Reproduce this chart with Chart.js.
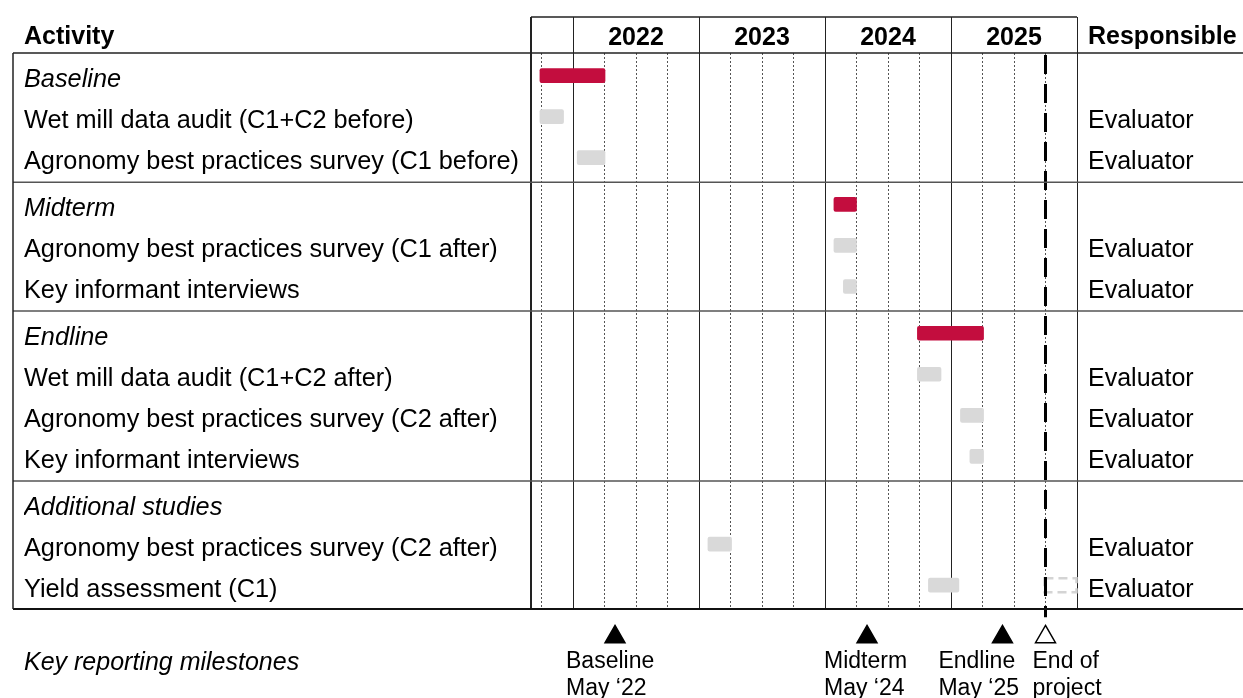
<!DOCTYPE html>
<html>
<head>
<meta charset="utf-8">
<script src="https://cdn.jsdelivr.net/npm/chart.js@4"></script>
<style>
  html, body { margin: 0; padding: 0; background: #fff; }
  #wrap { width: 1243px; height: 698px; }
</style>
</head>
<body>
<div id="wrap"><canvas id="plan" width="1243" height="698"></canvas></div>
<script>
// time is counted in months from 1 Jan 2022 (so -4 = Sep 2021, 48 = end of 2025)
const ACTIVITIES = [
  'Baseline',
  'Wet mill data audit (C1+C2 before)',
  'Agronomy best practices survey (C1 before)',
  'Midterm',
  'Agronomy best practices survey (C1 after)',
  'Key informant interviews',
  'Endline',
  'Wet mill data audit (C1+C2 after)',
  'Agronomy best practices survey (C2 after)',
  'Key informant interviews',
  'Additional studies',
  'Agronomy best practices survey (C2 after)',
  'Yield assessment (C1)'
];
const ROW_GROUP = [0, 0, 0, 1, 1, 1, 2, 2, 2, 2, 3, 3, 3];
const IS_PHASE = [true, false, false, true, false, false, true, false, false, false, true, false, false];
const BAR_START = [-3.15, -3.15, 0.4, 24.85, 24.85, 25.75, 32.8, 32.8, 36.9, 37.8, null, 12.85, 33.85];
const BAR_END = [3.05, -0.9, 3.05, 27.0, 27.0, 27.0, 39.1, 35.05, 39.1, 39.1, null, 15.1, 36.75];
const RESPONSIBLE = ['', 'Evaluator', 'Evaluator', '', 'Evaluator', 'Evaluator', '',
  'Evaluator', 'Evaluator', 'Evaluator', '', 'Evaluator', 'Evaluator'];
// planned but not yet scheduled (dashed outline)
const PLANNED_START = [null, null, null, null, null, null, null, null, null, null, null, null, 44.9];
const PLANNED_END = [null, null, null, null, null, null, null, null, null, null, null, null, 47.95];

const YEAR_BOUNDS = [-4, 0, 12, 24, 36, 48];
const YEAR_LABELS = ['', '2022', '2023', '2024', '2025', ''];
const QUARTER_TICKS = [-3, 3, 6, 9, 15, 18, 21, 27, 30, 33, 39, 42, 45];

const MILESTONE_MONTH = [4, 28, 40.9, 45];
const MILESTONE_TEXT = [['Baseline', 'May \u201822'], ['Midterm', 'May \u201824'], ['Endline', 'May \u201825'], ['End of', 'project']];
const MILESTONE_DONE = [true, true, true, false];
const END_OF_PROJECT = 45;

const FONT = "'Liberation Sans', Arial, sans-serif";
const RED = '#c30d3e';
const GREY = '#d9d9d9';
const GROUP_GAP = 0.14;      // extra space between groups, in rows
const Y_MIN = -0.55, Y_MAX = 13.0;
const MILESTONE_ROW = 13.68;
const LABEL_NUDGE = [-49, -43, -64, -13];

Chart.defaults.font.family = FONT;
Chart.defaults.color = '#000';

function rowPos(i) {
  return i + ROW_GROUP[i] * GROUP_GAP;
}

function barData(phase) {
  const out = [];
  ACTIVITIES.forEach((a, i) => {
    if (IS_PHASE[i] === phase && BAR_START[i] !== null) {
      out.push({ x: [BAR_START[i], BAR_END[i]], y: rowPos(i) });
    }
  });
  return out;
}

const rowTicks = scale => { scale.ticks = ACTIVITIES.map((a, i) => ({ value: rowPos(i) })); };

const frame = {
  id: 'frame',
  beforeDatasetsDraw(chart) {
    const { ctx, scales: { x, y } } = chart;
    ctx.save();
    ctx.strokeStyle = '#d4d4d4';
    ctx.lineWidth = 2.5;
    ctx.setLineDash([9, 5]);
    PLANNED_START.forEach((s, i) => {
      if (s === null) return;
      const x0 = x.getPixelForValue(s), x1 = x.getPixelForValue(PLANNED_END[i]);
      const yc = y.getPixelForValue(rowPos(i));
      ctx.strokeRect(x0, yc - 7, x1 - x0, 14);
    });
    ctx.restore();
  },
  afterDatasetsDraw(chart) {
    // milestone markers sit below the plot area, where Chart.js skips points
    const meta = chart.getDatasetMeta(1);
    chart.ctx.save();
    meta.data.forEach(pt => pt.draw(chart.ctx));
    chart.ctx.restore();
  },
  afterDraw(chart) {
    const { ctx, chartArea: a, scales: { x, y, yR } } = chart;
    const W = chart.width;
    const line = (x0, y0, x1, y1, color, w) => {
      ctx.beginPath();
      ctx.strokeStyle = color;
      ctx.lineWidth = w;
      ctx.moveTo(x0, y0);
      ctx.lineTo(x1, y1);
      ctx.stroke();
    };
    ctx.save();
    // table rules
    line(13, a.top, W, a.top, '#222', 1.5);
    line(a.left, a.top - 36, a.right, a.top - 36, '#222', 1.5);
    for (let i = 1; i < ACTIVITIES.length; i++) {
      if (ROW_GROUP[i] !== ROW_GROUP[i - 1]) {
        const ys = y.getPixelForValue(rowPos(i - 1) + 0.6);
        line(13, ys, W, ys, '#555', 1.5);
      }
    }
    line(13, a.bottom, W, a.bottom, '#111', 2);
    line(13, a.top, 13, a.bottom, '#222', 1.5);

    // headers
    ctx.textBaseline = 'middle';
    ctx.textAlign = 'left';
    ctx.fillStyle = '#000';
    ctx.font = 'bold 25px ' + FONT;
    ctx.fillText('Activity', 24, 37);
    ctx.fillText('Responsible', yR.left + 11, 37);

    ctx.font = 'italic 25px ' + FONT;
    ctx.fillText('Key reporting milestones', 24, 663);

    ctx.font = '23px ' + FONT;
    MILESTONE_MONTH.forEach((m, i) => {
      const px = x.getPixelForValue(m) + LABEL_NUDGE[i];
      ctx.fillText(MILESTONE_TEXT[i][0], px, 662);
      ctx.fillText(MILESTONE_TEXT[i][1], px, 689);
    });
    ctx.restore();
  }
};

new Chart(document.getElementById('plan'), {
  type: 'bar',
  data: {
    datasets: [
      {
        type: 'line',
        label: 'End of project',
        indexAxis: 'x',
        data: [{ x: END_OF_PROJECT, y: Y_MIN + 0.05 }, { x: END_OF_PROJECT, y: 13.2 }],
        borderColor: '#000',
        borderWidth: 3,
        borderDash: [19, 10],
        pointRadius: 0,
        clip: false,
        xAxisID: 'x',
        yAxisID: 'y'
      },
      {
        type: 'scatter',
        label: 'Milestones',
        indexAxis: 'x',
        data: MILESTONE_MONTH.map(m => ({ x: m, y: MILESTONE_ROW })),
        pointStyle: 'triangle',
        pointRadius: 11.5,
        pointBackgroundColor: MILESTONE_DONE.map(d => d ? '#000' : '#fff'),
        pointBorderColor: '#000',
        pointBorderWidth: 1.5,
        clip: false,
        xAxisID: 'x',
        yAxisID: 'y'
      },
      {
        label: 'Phase',
        data: barData(true),
        backgroundColor: RED,
        barThickness: 14,
        borderRadius: 2,
        borderSkipped: false,
        grouped: false,
        xAxisID: 'x',
        yAxisID: 'y'
      },
      {
        label: 'Activity',
        data: barData(false),
        backgroundColor: GREY,
        barThickness: 14,
        borderRadius: 2,
        borderSkipped: false,
        grouped: false,
        xAxisID: 'x',
        yAxisID: 'y'
      }
    ]
  },
  options: {
    indexAxis: 'y',
    responsive: false,
    animation: false,
    events: [],
    layout: { padding: { left: 24, right: 0, top: 0, bottom: 0 } },
    plugins: { legend: { display: false }, tooltip: { enabled: false } },
    scales: {
      x: {
        type: 'linear',
        position: 'bottom',
        min: -4,
        max: 48,
        offset: false,
        afterBuildTicks: s => { s.ticks = QUARTER_TICKS.map(v => ({ value: v })); },
        afterFit: s => { s.height = 89; },
        ticks: { display: false },
        grid: { color: '#555', lineWidth: 1, drawTicks: false, offset: false },
        border: { display: false, dash: [2, 2] }
      },
      xTop: {
        type: 'linear',
        position: 'top',
        min: -4,
        max: 48,
        offset: false,
        afterBuildTicks: s => { s.ticks = YEAR_BOUNDS.map(v => ({ value: v })); },
        afterFit: s => { s.height = 53; },
        ticks: {
          autoSkip: false,
          maxRotation: 0,
          labelOffset: 63,
          padding: -36,
          font: { size: 25, weight: 'bold' },
          callback: (v, i) => YEAR_LABELS[i]
        },
        grid: {
          color: '#222',
          offset: false,
          lineWidth: c => c.index === 0 ? 2 : 1,
          tickLength: 36,
          tickColor: '#222'
        },
        border: { display: false }
      },
      y: {
        type: 'linear',
        position: 'left',
        reverse: true,
        offset: false,
        min: Y_MIN,
        max: Y_MAX,
        afterBuildTicks: rowTicks,
        afterFit: s => { s.width = 507; },
        ticks: {
          autoSkip: false,
          crossAlign: 'far',
          labelOffset: 4.5,
          font: c => ({ family: FONT, size: 25.3, style: IS_PHASE[c.index] ? 'italic' : 'normal' }),
          callback: (v, i) => ACTIVITIES[i]
        },
        grid: { display: false, offset: false },
        border: { display: false }
      },
      yR: {
        type: 'linear',
        position: 'right',
        reverse: true,
        offset: false,
        min: Y_MIN,
        max: Y_MAX,
        afterBuildTicks: rowTicks,
        afterFit: s => { s.width = 166; },
        ticks: {
          autoSkip: false,
          padding: 11,
          labelOffset: 4.5,
          font: { size: 25 },
          callback: (v, i) => RESPONSIBLE[i]
        },
        grid: { display: false, drawTicks: false, offset: false },
        border: { display: false }
      }
    }
  },
  plugins: [frame]
});
</script>
</body>
</html>
